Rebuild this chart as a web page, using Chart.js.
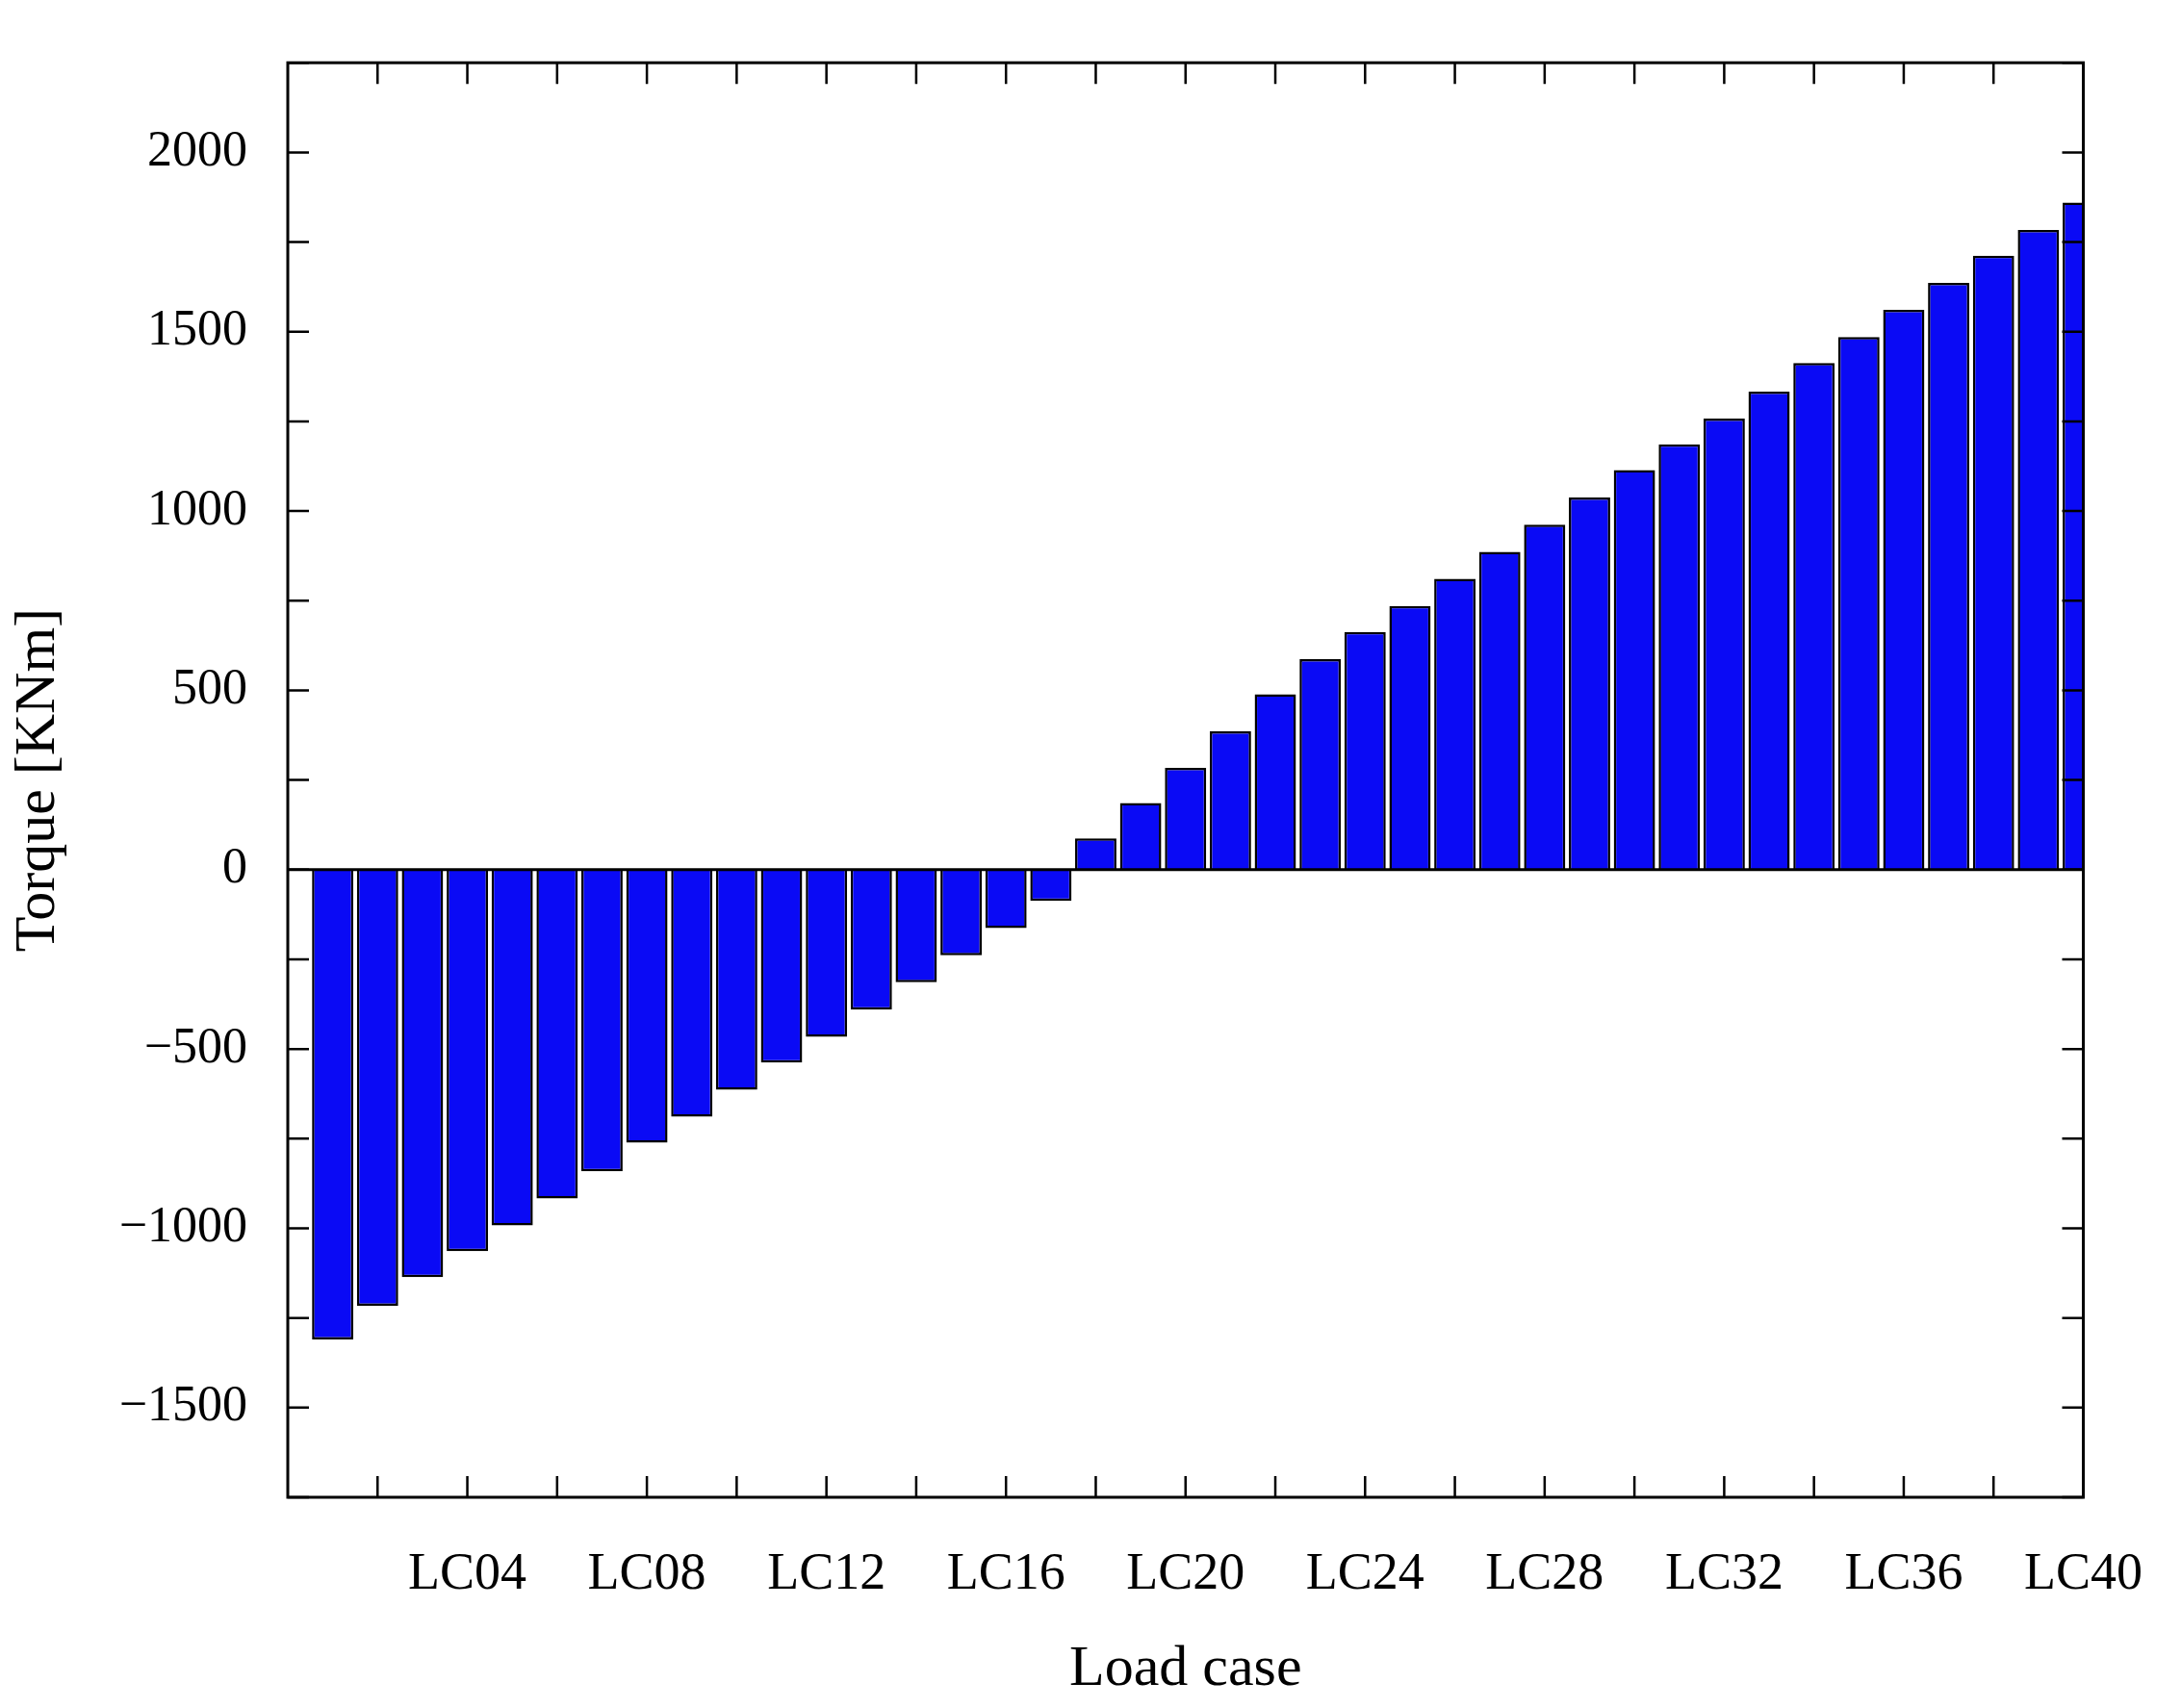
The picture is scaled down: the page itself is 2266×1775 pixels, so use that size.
<!DOCTYPE html>
<html><head><meta charset="utf-8">
<script src="https://cdn.jsdelivr.net/npm/chart.js@4/dist/chart.umd.min.js"></script>
<style>html,body{margin:0;padding:0;background:#fff}#w{width:2266px;height:1775px}</style>
</head><body><div id="w"><canvas id="c"></canvas></div>
<script>
const categories = Array.from({length:40},(_,i)=>'LC'+String(i+1).padStart(2,'0'));
const torque = [-1310,-1216,-1136,-1064,-992,-917,-841,-761,-689,-614,-538,-466,-390,-314,-239,-163,-87,
  87,186,284,386,489,587,663,735,811,886,962,1038,1114,1186,1258,1333,1413,1485,1561,1636,1712,1784,1860];
const yTicks = [-1500,-1000,-500,0,500,1000,1500,2000];

const FONT = '"Liberation Serif","Times New Roman",serif';
const framePlugin = {
  id:'frame',
  afterDatasetsDraw(ch){
    const {ctx, chartArea:a, scales:{x,y}} = ch;
    ctx.save();
    ctx.strokeStyle='#000'; ctx.lineWidth=3;
    const y0=y.getPixelForValue(0);
    ctx.beginPath(); ctx.moveTo(a.left,y0); ctx.lineTo(a.right,y0); ctx.stroke();
    ctx.strokeRect(a.left,a.top,a.right-a.left,a.bottom-a.top);
    ctx.lineWidth=2.5;
    const L=22;
    for(let v=-1750; v<=2250; v+=250){
      const p=y.getPixelForValue(v);
      ctx.beginPath(); ctx.moveTo(a.left,p); ctx.lineTo(a.left+L,p);
      ctx.moveTo(a.right,p); ctx.lineTo(a.right-L,p); ctx.stroke();
    }
    for(let v=2; v<=40; v+=2){
      const p=x.getPixelForValue(v);
      ctx.beginPath(); ctx.moveTo(p,a.bottom); ctx.lineTo(p,a.bottom-L);
      ctx.moveTo(p,a.top); ctx.lineTo(p,a.top+L); ctx.stroke();
    }
    ctx.restore();
  }
};

new Chart(document.getElementById('c'),{
  type:'bar',
  data:{datasets:[{label:'Torque',data:torque.map((v,i)=>({x:i+1,y:v})),
    backgroundColor:'#0a0af5',borderColor:'#000',borderWidth:2.5,
    barPercentage:0.92,categoryPercentage:1}]},
  options:{
    responsive:true,maintainAspectRatio:false,animation:false,
    layout:{padding:{top:-6,right:74,left:0,bottom:0}},
    plugins:{legend:{display:false},tooltip:{enabled:false}},
    scales:{
      x:{type:'linear',min:0,max:40,offset:false,
        afterFit(s){s.height=219;},
        grid:{display:false,offset:false},border:{display:false},
        ticks:{stepSize:4,padding:40,color:'#000',font:{family:FONT,size:54},
          maxRotation:0,autoSkip:false,
          callback:v=>v>0?categories[v-1]:''},
        title:{display:true,text:'Load case',color:'#000',font:{family:FONT,size:60},padding:{top:0}}},
      y:{min:-1750,max:2250,
        afterFit(s){s.width=299;},
        afterBuildTicks(s){s.ticks=yTicks.map(v=>({value:v}));},
        grid:{display:false},border:{display:false},
        ticks:{padding:34,color:'#000',font:{family:FONT,size:52},
          callback:v=>String(v).replace('-','\u2212')},
        title:{display:true,text:'Torque [KNm]',color:'#000',font:{family:FONT,size:60},padding:{bottom:20}}}
    }
  },
  plugins:[framePlugin]
});
</script></body></html>
